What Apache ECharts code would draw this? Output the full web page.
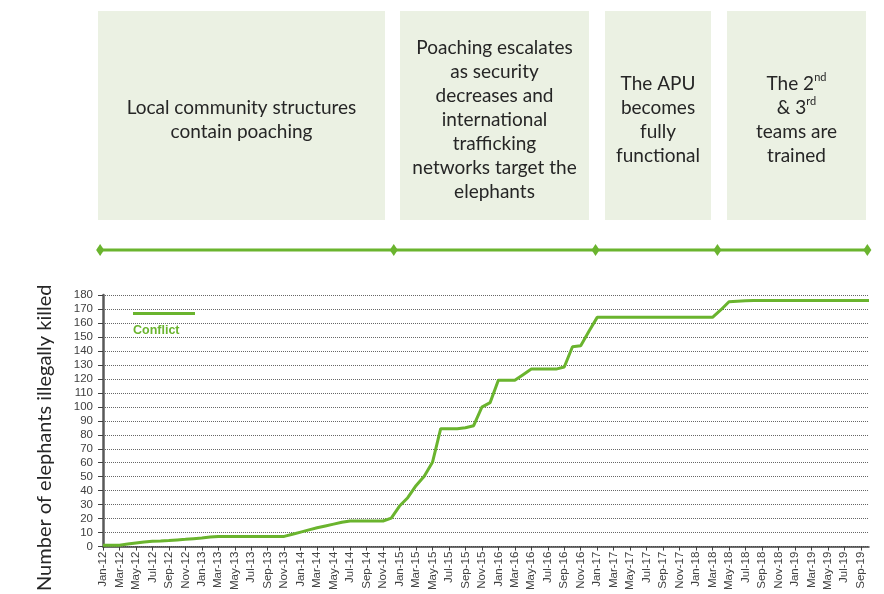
<!DOCTYPE html>
<html><head><meta charset="utf-8">
<script src="https://cdn.jsdelivr.net/npm/echarts@6/dist/echarts.min.js"></script>
<style>html,body{margin:0;padding:0;background:#fff}#c{width:884px;height:594px}</style>
</head><body><div id="c"></div>
<script>
// Months Jan-12 .. Oct-19
const monthNames = ['Jan','Feb','Mar','Apr','May','Jun','Jul','Aug','Sep','Oct','Nov','Dec'];
const years = ['12','13','14','15','16','17','18','19'];
const categories = [];
years.forEach(y => monthNames.forEach(m => categories.push(m + '-' + y)));
categories.length = 94; // through Oct-19

// Cumulative elephants illegally killed (Conflict)
const conflict = [
  1, 1, 1, 1.8, 2.6, 3.3, 3.8, 4, 4.3, 4.8, 5.2, 5.7,            // 2012
  6.2, 6.8, 7.3, 7.3, 7.3, 7.3, 7.3, 7.3, 7.3, 7.3, 7.3, 8.8,     // 2013
  10.4, 12, 13.5, 14.8, 16.1, 17.4, 18.3, 18.3, 18.3, 18.3, 18.3, 20.4, // 2014
  29, 35, 43.6, 50.3, 60.3, 84.4, 84.4, 84.4, 85, 86.5, 99.8, 103, // 2015
  119, 119, 119, 123, 127, 127, 127, 127, 128.5, 143, 143.7, 154, // 2016
  164, 164, 164, 164, 164, 164, 164, 164, 164, 164, 164, 164,     // 2017
  164, 164, 164, 169.3, 175.2, 175.6, 175.8, 176, 176, 176, 176, 176, // 2018
  176, 176, 176, 176, 176, 176, 176, 176, 176, 176                // 2019 (to Oct)
];

// Timeline milestones (month index positions)
const milestones = [-0.35, 35.3, 59.8, 74.6, 92.8];

// Phase annotation texts
const phases = [
  '{n|Local community structures}\n{n|contain poaching}',
  '{n|Poaching escalates}\n{n|as security}\n{n|decreases and}\n{n|international}\n{n|trafficking}\n{n|networks target the}\n{n|elephants}',
  '{n|The APU}\n{n|becomes}\n{n|fully}\n{n|functional}',
  '{n|The 2}{s|nd}\n{n|& 3}{s|rd}\n{n|teams are}\n{n|trained}'
];
const boxes = [[98, 287], [400, 189], [605, 106], [727, 139]];

const green = '#6ab42e';
const chart = echarts.init(document.getElementById('c'));
const graphics = boxes.map((b, i) => ({
  type: 'group', left: b[0], top: 11,
  children: [
    {type: 'rect', shape: {x: 0, y: 0, width: b[1], height: 209}, style: {fill: '#ebf1e3'}},
    {type: 'text', x: b[1] / 2, y: 109, style: {
      text: phases[i], align: 'center', verticalAlign: 'middle',
      rich: {
        n: {fontFamily: 'Lato', fontSize: 19, lineHeight: 24, fill: '#262626', color: '#262626'},
        s: {fontFamily: 'Lato', fontSize: 11, lineHeight: 24, verticalAlign: 'top', padding: [0, 0, 10, 0], fill: '#262626', color: '#262626'}
      }
    }}
  ]
}));
graphics.push({
  type: 'text', left: 133, top: 324,
  style: {text: 'Conflict', fill: green, fontFamily: 'Liberation Sans', fontWeight: 'bold', fontSize: 12.5}
});

chart.setOption({
  animation: false,
  graphic: graphics,
  legend: {
    data: ['Conflict'], left: 128, top: 307, icon: 'rect', itemWidth: 62, itemHeight: 3,
    formatter: () => '', textStyle: {fontSize: 12}
  },
  grid: [
    {left: 103, right: 15, top: 295, bottom: 46},
    {left: 103, right: 15, top: 245, height: 10}
  ],
  xAxis: [
    {
      type: 'category', data: categories, boundaryGap: false, gridIndex: 0,
      axisLine: {lineStyle: {color: '#404040', width: 1.5}},
      axisTick: {interval: 1, length: 4, lineStyle: {color: '#404040'}},
      axisLabel: {interval: 1, rotate: 90, fontSize: 11.5, color: '#404040', fontFamily: 'Liberation Sans', margin: 5}
    },
    {type: 'value', gridIndex: 1, min: 0, max: 93, show: false}
  ],
  yAxis: [
    {
      type: 'value', min: 0, max: 180, interval: 10, gridIndex: 0,
      name: 'Number of elephants illegally killed', nameLocation: 'middle', nameGap: 48,
      nameTextStyle: {fontFamily: 'Lato', fontSize: 20, color: '#262626', padding: [0, 34, 0, 0]},
      axisLine: {show: true, lineStyle: {color: '#595959', width: 2.5}},
      axisTick: {show: true, length: 5, lineStyle: {color: '#404040'}},
      axisLabel: {fontSize: 11.5, color: '#404040', fontFamily: 'Liberation Sans', margin: 10},
      splitLine: {lineStyle: {color: '#666', type: 'dotted', width: 1}}
    },
    {type: 'value', gridIndex: 1, min: 0, max: 1, show: false}
  ],
  series: [
    {
      name: 'Conflict', type: 'line', data: conflict, xAxisIndex: 0, yAxisIndex: 0,
      symbol: 'none', lineStyle: {color: green, width: 3}, itemStyle: {color: green}
    },
    {
      name: 'Timeline', type: 'line', xAxisIndex: 1, yAxisIndex: 1, clip: false,
      data: milestones.map(m => [m, 0.5]), symbol: 'diamond', symbolSize: [8, 12],
      lineStyle: {color: green, width: 3}, itemStyle: {color: green}
    }
  ]
});
</script></body></html>
